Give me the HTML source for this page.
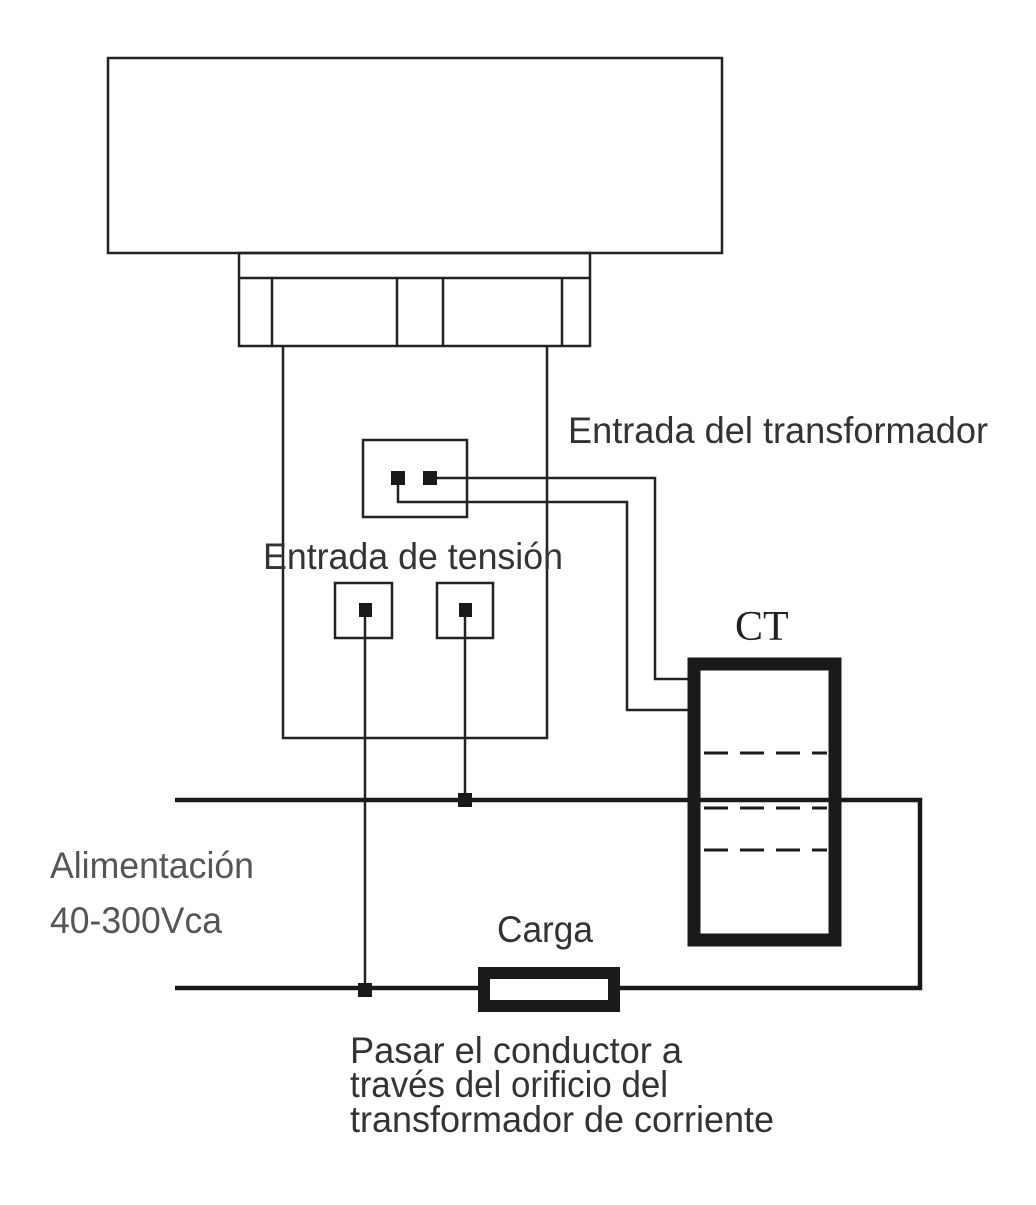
<!DOCTYPE html>
<html><head><style>html,body{margin:0;padding:0;background:#fff}</style></head>
<body>
<svg width="1036" height="1200" viewBox="0 0 1036 1200" xmlns="http://www.w3.org/2000/svg" font-family="Liberation Sans, Arial, sans-serif">
<g fill="none" stroke="#222" stroke-width="2.5">
<rect x="108" y="58" width="614" height="195"/>
<rect x="239" y="253" width="351" height="93"/>
<line x1="239" y1="278" x2="590" y2="278"/>
<line x1="272" y1="278" x2="272" y2="346"/>
<line x1="397" y1="278" x2="397" y2="346"/>
<line x1="443" y1="278" x2="443" y2="346"/>
<line x1="562" y1="278" x2="562" y2="346"/>
<polyline points="283,346 283,738 547,738 547,346"/>
<rect x="363" y="440" width="104" height="77"/>
<polyline points="430,478 655,478 655,679 690,679"/>
<polyline points="398,478 398,502 627,502 627,710 690,710"/>
<rect x="335" y="583" width="57" height="55"/>
<rect x="437" y="583" width="56" height="55"/>
<line x1="365" y1="610" x2="365" y2="990"/>
<line x1="465" y1="610" x2="465" y2="800"/>
</g>
<g fill="#1a1a1a">
<rect x="391" y="471" width="14" height="14"/>
<rect x="423" y="471" width="14" height="14"/>
<rect x="359" y="603" width="13" height="14"/>
<rect x="459" y="603" width="13" height="14"/>
<rect x="458" y="793" width="14" height="14"/>
<rect x="358" y="983" width="14" height="14"/>
</g>
<g fill="none" stroke="#1a1a1a">
<polyline points="175,800 920,800 920,988 618,988" stroke-width="4.5"/>
<line x1="175" y1="988" x2="480" y2="988" stroke-width="4.5"/>
<rect x="484" y="973" width="130" height="33" stroke-width="12"/>
<rect x="694" y="664" width="141" height="276" stroke-width="13"/>
<g stroke-width="3" stroke-dasharray="24,12">
<line x1="704" y1="753" x2="827" y2="753"/>
<line x1="704" y1="808" x2="827" y2="808"/>
<line x1="704" y1="850" x2="827" y2="850"/>
</g>
</g>
<g fill="#333" font-size="37">
<text x="568" y="443" textLength="420" lengthAdjust="spacingAndGlyphs">Entrada del transformador</text>
<text x="263" y="569" textLength="300" lengthAdjust="spacingAndGlyphs">Entrada de tensión</text>
<text x="497" y="942" textLength="96" lengthAdjust="spacingAndGlyphs">Carga</text>
<text x="350" y="1063" textLength="332" lengthAdjust="spacingAndGlyphs">Pasar el conductor a</text>
<text x="350" y="1097" textLength="318" lengthAdjust="spacingAndGlyphs">través del orificio del</text>
<text x="350" y="1132" textLength="424" lengthAdjust="spacingAndGlyphs">transformador de corriente</text>
</g>
<g fill="#555" font-size="37">
<text x="50" y="878" textLength="204" lengthAdjust="spacingAndGlyphs">Alimentación</text>
<text x="50" y="933" textLength="172" lengthAdjust="spacingAndGlyphs">40-300Vca</text>
</g>
<text x="735" y="640" font-family="Liberation Serif, serif" font-size="42" fill="#222">CT</text>
</svg>
</body></html>
